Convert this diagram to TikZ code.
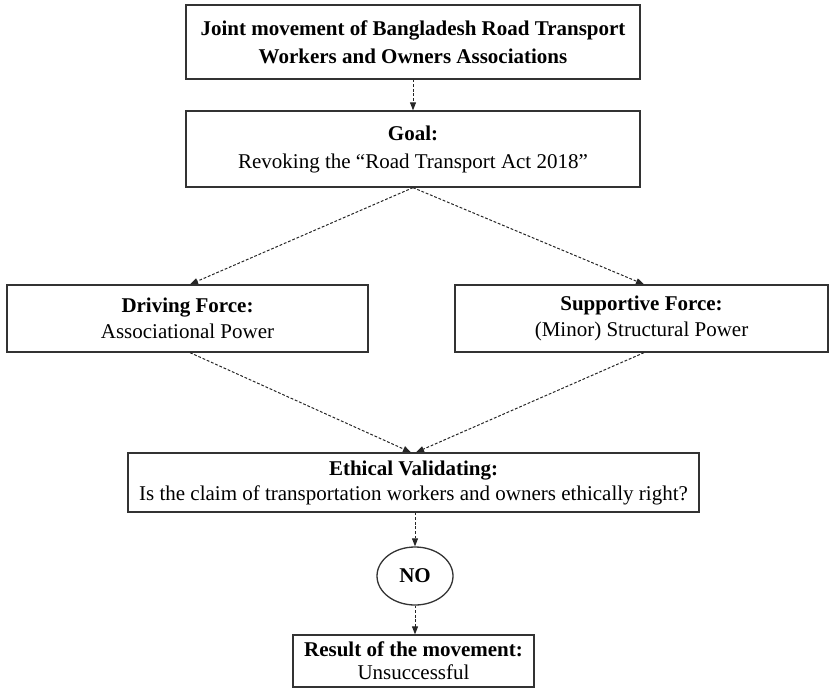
\documentclass[tikz,border=0pt]{standalone}
\usepackage{fontspec}
\setmainfont{Liberation Serif}
\usetikzlibrary{arrows.meta,calc,shapes.geometric}
\definecolor{edge}{HTML}{333333}
\begin{document}
\begin{tikzpicture}[x=1pt,y=-1pt,
  box/.style={draw=edge,line width=1.3pt,rectangle,inner sep=0pt,align=center,
    font=\fontsize{21}{25}\selectfont},
  oval/.style={draw=edge,line width=1.3pt,ellipse,inner sep=0pt,
    font=\fontsize{21}{25}\selectfont\bfseries},
  link/.style={draw=black!85,line width=1pt,dash pattern=on 2.8pt off 1.8pt,
    -{Triangle[length=8pt,width=6pt]}}]
\useasboundingbox (0,0) rectangle (829,688);
\node[box,minimum width=454pt,minimum height=74pt] (top) at (413,42)
  {\textbf{Joint movement of Bangladesh Road Transport}\\[3pt]\textbf{Workers and Owners Associations}};
\node[box,minimum width=454pt,minimum height=76pt] (goal) at (413,149)
  {\textbf{Goal:}\\[3pt]Revoking the “Road Transport Act 2018”};
\node[box,minimum width=361pt,minimum height=67pt] (drv) at (187.5,318.5)
  {\textbf{Driving Force:}\\[1pt]Associational Power};
\node[box,minimum width=373pt,minimum height=67pt] (sup) at (641.5,318.5)
  {\textbf{Supportive Force:}\\[1pt](Minor) Structural Power};
\node[box,minimum width=571pt,minimum height=59pt] (eth) at (413.5,482.5)
  {\textbf{Ethical Validating:}\\Is the claim of transportation workers and owners ethically right?};
\node[oval,minimum width=76pt,minimum height=58pt] (no) at (415,576) {NO};
\node[box,minimum width=241pt,minimum height=52pt,font=\fontsize{21}{23}\selectfont] (res) at (413.5,661)
  {\textbf{Result of the movement:}\\Unsuccessful};
\draw[link] (top.south) -- (goal.north);
\draw[link] (goal.south) -- ($(drv.north)+(2.5,0)$);
\draw[link] (goal.south) -- ($(sup.north)+(2.5,0)$);
\draw[link] ($(drv.south)+(2.5,0)$) -- ($(eth.north)+(-2.5,0)$);
\draw[link] ($(sup.south)+(2.5,0)$) -- ($(eth.north)+(2.5,0)$);
\draw[link] ($(eth.south)+(1.5,0)$) -- (no.north);
\draw[link] (no.south) -- ($(res.north)+(1.5,0)$);
\end{tikzpicture}
\end{document}
